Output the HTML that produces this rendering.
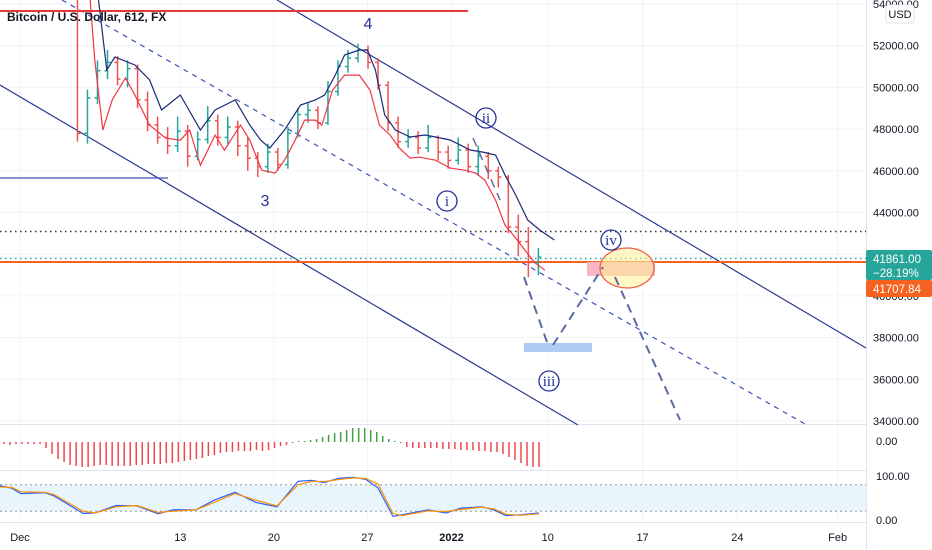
<!DOCTYPE html>
<html><head><meta charset="utf-8"><style>
html,body{margin:0;padding:0;background:#fff;}
svg{display:block;font-family:"Liberation Sans",sans-serif;}
</style></head><body>
<svg id="chart" width="932" height="550" viewBox="0 0 932 550"></svg>
<script>
// ---- data ----
const priceTicks=[54000,52000,50000,48000,46000,44000,42000,40000,38000,36000,34000];
const dateLabels=["Dec","13","20","27","2022","10","17","24","Feb"];
const dateDays=[0,12,19,26,32.3,39.5,46.6,53.7,61.2];
const opens=[55500,47800,49500,50800,51200,50400,50900,49400,48200,47600,47200,47900,46700,47500,48400,47600,48100,47200,46600,46200,46900,46300,47800,48700,48900,48300,49800,51000,51400,51800,51200,50100,48300,47400,47600,47100,47600,46900,46500,47000,46200,46700,46000,45700,43300,42600,41600];
const closes=[47800,49500,50800,51200,50400,50900,49400,48200,47600,47200,47900,46700,47500,48400,47600,48100,47200,46600,46200,46900,46300,47800,48700,48900,48300,49800,51000,51400,51800,51200,50100,48300,47400,47600,47100,47600,46900,46500,47000,46200,46700,46000,45700,43300,42600,41600,41860];
const highs=[56500,49900,51300,51800,51500,51300,51100,49800,48600,48100,48600,48200,47900,49100,48700,48600,48400,47600,46900,47300,47100,48100,49000,49300,49100,50300,51300,51800,52100,52000,51400,50300,48600,48000,47900,48200,47700,47200,47600,47300,47200,46900,46200,45800,43900,43300,42300];
const lows=[47400,47300,49200,50400,50100,50000,49000,47900,47300,46800,46900,46200,46500,47300,47200,47300,46700,46000,45700,45900,46000,46100,47600,48300,48000,48200,49600,50700,51200,50900,49900,47900,47100,47100,46800,46900,46500,46100,46300,45900,45800,45600,45200,43000,41900,40900,41000];
const redDays=[5.1,5.6,6.2,6.9,7.9,8.6,9.7,10.9,12.0,12.7,13.5,14.6,15.3,16.5,17.2,18.1,19.1,19.8,20.6,21.3,22.1,22.6,23.4,24.3,25.4,26.2,26.9,27.7,28.4,29.2,29.9,31.1,32.2,33.3,34.1,34.8,35.6,36.3,37.1,37.8,38.5,39.3];
const redVals=[55500,51300,47950,49400,50450,49630,48190,47570,47470,47950,46270,47710,46990,48190,47470,46030,45890,46510,47470,48430,48430,48190,49870,50590,50590,49870,48190,47710,47090,46610,46650,46510,46130,46030,45890,45550,44590,43390,42770,42190,41610,41230];
const blueDays=[5.8,6.5,7.1,8.6,9.7,10.6,12.0,13.5,14.6,16.1,17.2,18.0,18.7,19.8,21.0,22.1,22.8,23.6,24.3,25.4,26.0,26.6,27.3,28.1,29.2,30.3,31.1,32.2,33.7,34.6,35.6,36.3,37.1,38.0,38.9,40.0];
const blueVals=[54600,50835,51458,51075,50355,48916,49636,47957,48916,49396,48197,47478,47094,47957,49156,49396,49636,50595,51554,51794,51794,50835,48676,47957,47622,47718,47622,47478,46998,46902,46758,45799,44840,43640,43160,42680];
const histVals=[-2,-3,-2,-2,-2,-2,-2,-6,-12,-17,-20,-23,-24,-25,-25,-24,-23,-23,-24,-24,-24,-24,-23,-23,-22,-22,-22,-21,-21,-20,-19,-18,-17,-16,-14,-13,-11,-10,-10,-9,-9,-9,-8,-9,-8,-6,-4,-3,-1,1,1,2,3,5,7,9,10,12,14,14,14,12,10,6,3,1,-1,-5,-6,-6,-6,-6,-6,-7,-7,-7,-8,-8,-8,-9,-9,-10,-10,-12,-15,-18,-21,-24,-25,-25];
const stochDays=[-1.5,-0.6,0.07,1.87,2.54,4.72,5.61,7.19,8.76,10.33,11.45,13.17,14.52,16.09,17.66,19.24,20.81,21.86,22.75,23.88,25.0,25.9,26.8,27.92,28.59,30.54,31.89,33.0,34.58,35.48,36.38,37.5,38.85];
const stochK=[78,72,60,62,55,15,16,33,32,14,23,23,45,63,40,30,88,90,85,95,97,92,73,8,12,23,16,27,30,23,10,12,16];
const stochD=[75,74,64,63,58,20,16,30,33,17,20,23,40,60,45,32,80,88,87,92,96,94,82,15,10,21,19,24,29,25,13,11,14];

// ---- scales ----
const xd=d=>20+d*13.36;
const yp=p=>4+(54000-p)*0.02085;
const yh=v=>442-v;
const ys=v=>520-v*0.44;
const NS="http://www.w3.org/2000/svg";
const svg=document.getElementById('chart');
function mk(tag,attrs,parent){const e=document.createElementNS(NS,tag);for(const k in attrs)e.setAttribute(k,attrs[k]);(parent||svg).appendChild(e);return e;}

// grid
const grid=mk('g',{});


priceTicks.forEach(p=>{mk('line',{x1:0,x2:866,y1:yp(p),y2:yp(p),stroke:'#f0f3fa'},grid);});
dateDays.forEach(d=>{mk('line',{x1:xd(d),x2:xd(d),y1:0,y2:522,stroke:'#f0f3fa'},grid);});
mk('line',{x1:0,x2:932,y1:424.5,y2:424.5,stroke:'#e0e3eb'});
mk('line',{x1:0,x2:932,y1:470.5,y2:470.5,stroke:'#e0e3eb'});
mk('line',{x1:0,x2:932,y1:522.5,y2:522.5,stroke:'#e0e3eb'});
mk('line',{x1:866.5,x2:866.5,y1:0,y2:550,stroke:'#e0e3eb'});

// channel drawings
const dr=mk('g',{});


mk('line',{x1:277,y1:0,x2:866,y2:348,stroke:'#2a3a8f','stroke-width':1.2},dr);
mk('line',{x1:0,y1:85,x2:578,y2:425,stroke:'#2a3a8f','stroke-width':1.2},dr);
mk('line',{x1:62,y1:0,x2:805,y2:424,stroke:'#3f51b5','stroke-width':1.2,'stroke-dasharray':'5,5'},dr);
const rl=mk('line',{x1:0,y1:11,x2:468,y2:11,stroke:'#e53935','stroke-width':2});


const bl=mk('line',{x1:0,y1:178,x2:168,y2:178,stroke:'#3f51b5','stroke-width':1.2});


mk('line',{x1:0,y1:231.5,x2:866,y2:231.5,stroke:'#333','stroke-width':1.5,'stroke-dasharray':'1.5,3.5'});
mk('line',{x1:0,y1:258.5,x2:866,y2:258.5,stroke:'#26a69a','stroke-width':1.5,'stroke-dasharray':'1.5,3.5'});
const ol=mk('line',{x1:0,y1:262,x2:866,y2:262,stroke:'#f5621f','stroke-width':2});



// target zones
const bz=mk('rect',{x:524,y:343,width:68,height:9,fill:'#aecbf5'});


const pz=mk('rect',{x:587,y:262,width:68,height:14,fill:'#f6b6c4'});


const el=mk('ellipse',{cx:627,cy:268,rx:27,ry:20,fill:'rgba(255,240,150,0.55)',stroke:'#f0604a','stroke-width':1.3});



// candles (bars)
const cg=mk('g',{});


closes.forEach((c,i)=>{
  const d=4.3+i*0.75, x=xd(d), col=c>=opens[i]?'#26a69a':'#ef5350';
  const g=mk('g',{stroke:col,'stroke-width':1.5},cg);
  
  
  mk('line',{x1:x,x2:x,y1:yp(highs[i]),y2:yp(lows[i])},g);
  mk('line',{x1:x-3,x2:x,y1:yp(opens[i]),y2:yp(opens[i])},g);
  mk('line',{x1:x,x2:x+3,y1:yp(c),y2:yp(c)},g);
});
const pts=(ds,vs,fy)=>ds.map((d,i)=>xd(d).toFixed(1)+','+fy(vs[i]).toFixed(1)).join(' ');
const rline=mk('polyline',{points:pts(redDays,redVals,yp),fill:'none',stroke:'#f23645','stroke-width':1.2});


const bline=mk('polyline',{points:pts(blueDays,blueVals,yp),fill:'none',stroke:'#1a2a7a','stroke-width':1.2});



// projection path
const proj=mk('g',{stroke:'#5c6aa0','stroke-width':2,'stroke-dasharray':'9,6',fill:'none'});


mk('line',{x1:524,y1:277,x2:548,y2:345},proj);
mk('line',{x1:553,y1:345,x2:603,y2:267},proj);
mk('line',{x1:615,y1:277,x2:680,y2:420},proj);
mk('line',{x1:473,y1:138,x2:500,y2:200,'stroke-width':1.5},proj);

// wave labels
function lab(txt,x,y,circ,name){
  const g=mk('g',{});
  
  
  if(circ) mk('circle',{cx:x,cy:y-5,r:10,fill:'none',stroke:'#23309a','stroke-width':1.3},g);
  const t=mk('text',{x:x,y:y,'text-anchor':'middle','font-size':circ?15:16,fill:'#23309a','font-family':circ?'"Liberation Serif",serif':'"Liberation Sans",sans-serif'},g);
  t.textContent=txt;
}
lab('4',368,29,false,'wave-4-label');
lab('3',265,206,false,'wave-3-label');
lab('i',447,206,true,'wave-i-label');
lab('ii',486,123,true,'wave-ii-label');
lab('iii',549,386,true,'wave-iii-label');
lab('iv',611,245,true,'wave-iv-label');

// histogram
const hg=mk('g',{});


histVals.forEach((v,i)=>{
  const x=xd(-1.2+i*0.45);
  const b=mk('line',{x1:x,x2:x,y1:yh(0),y2:yh(v),stroke:v>=0?'#43a047':'#f0474f','stroke-width':1.5},hg);
  
  
});

// stochastic
const sb=mk('rect',{x:0,y:ys(80),width:866,height:ys(20)-ys(80),fill:'#e3f2fd',opacity:0.8});


mk('line',{x1:0,x2:866,y1:ys(80),y2:ys(80),stroke:'#999','stroke-dasharray':'2,3'});
mk('line',{x1:0,x2:866,y1:ys(20),y2:ys(20),stroke:'#999','stroke-dasharray':'2,3'});
const sk=mk('polyline',{points:pts(stochDays,stochK,ys),fill:'none',stroke:'#2962ff','stroke-width':1.2});


const sd=mk('polyline',{points:pts(stochDays,stochD,ys),fill:'none',stroke:'#ff8f00','stroke-width':1.2});



// right axis
mk('rect',{x:867,y:0,width:65,height:550,fill:'#fff'});
const ax=mk('g',{'font-size':11,fill:'#131722'});


priceTicks.forEach(p=>{const t=mk('text',{x:873,y:yp(p)+4},ax);t.textContent=p.toFixed(2);});
[['0.00',445],['100.00',480],['0.00',524]].forEach(a=>{const t=mk('text',{x:876,y:a[1]},ax);t.textContent=a[0];});
const usd=mk('g',{});


mk('rect',{x:886,y:5,width:28,height:18,rx:3,fill:'#fff',stroke:'#e0e3eb'},usd);
const ut=mk('text',{x:900,y:18,'text-anchor':'middle','font-size':11,fill:'#131722'},usd);ut.textContent='USD';
const pl=mk('g',{});


mk('rect',{x:866,y:250,width:66,height:30,rx:2,fill:'#26a69a'},pl);
let t=mk('text',{x:873,y:263,'font-size':11.5,fill:'#fff'},pl);t.textContent='41861.00';
t=mk('text',{x:873,y:277,'font-size':11.5,fill:'#fff'},pl);t.textContent='\u221228.19%';
const ml=mk('g',{});


mk('rect',{x:866,y:280,width:66,height:17,rx:2,fill:'#f5621f'},ml);
t=mk('text',{x:873,y:293,'font-size':11.5,fill:'#fff'},ml);t.textContent='41707.84';

// time axis
const tx=mk('g',{'font-size':11,fill:'#131722','text-anchor':'middle'});


dateLabels.forEach((s,i)=>{const e=mk('text',{x:xd(dateDays[i]),y:541,'font-weight':s==='2022'?'bold':'normal'},tx);e.textContent=s;});

// title
const ti=mk('text',{x:7,y:21,'font-size':12,'font-weight':'bold',fill:'#131722'});


ti.textContent='Bitcoin / U.S. Dollar, 612, FX';
</script>
</body></html>
